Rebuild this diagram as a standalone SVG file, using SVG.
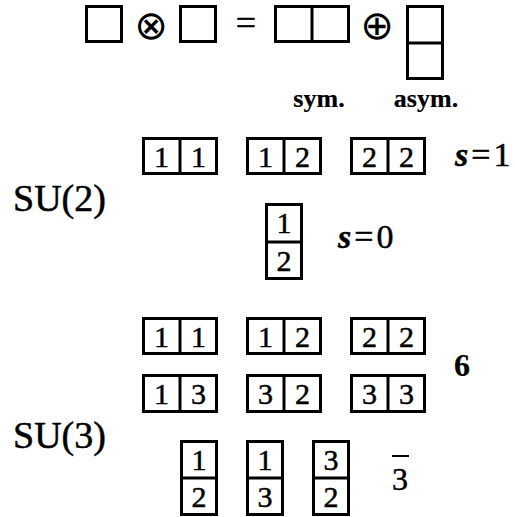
<svg xmlns="http://www.w3.org/2000/svg" width="515" height="517" viewBox="0 0 515 517">
<style>
.c{fill:#fff;stroke:#000;stroke-width:3}
.d{stroke:#000;stroke-width:3}
.t{fill:#000;stroke:#000;stroke-width:0.5}
.n{font-size:30px;text-anchor:middle}
.big{font-size:38px}
.b{font-weight:bold;stroke-width:0.2}
.sym{fill:#000;text-anchor:middle}
</style>
<rect width="515" height="517" fill="#fff"/>
<g font-family="Liberation Serif, Times New Roman, serif">
<g id="equation">
<rect class="c" x="86.5" y="6.5" width="35" height="35"/>
<text class="sym" x="151" y="39" font-size="40" font-family="DejaVu Sans, sans-serif">⊗</text>
<rect class="c" x="180.5" y="6.5" width="35" height="35"/>
<text class="t" x="246" y="35" font-size="36" text-anchor="middle" stroke-width="0">=</text>
<rect class="c" x="275.5" y="6.5" width="73" height="35"/>
<line class="d" x1="312" y1="6.5" x2="312" y2="41.5"/>
<text class="sym" x="377" y="39" font-size="40" font-family="DejaVu Sans, sans-serif">⊕</text>
<rect class="c" x="407.5" y="6.5" width="35" height="72"/>
<line class="d" x1="407.5" y1="43" x2="442.5" y2="43"/>
<text class="t b" x="319" y="107" font-size="26" text-anchor="middle">sym.</text>
<text class="t b" x="426" y="107" font-size="26" text-anchor="middle">asym.</text>
</g>
<g id="su2">
<text class="t big" x="13" y="211">SU(2)</text>
<g id="su2-11"><rect class="c" x="143.5" y="138.5" width="73" height="35"/><line class="d" x1="180" y1="138.5" x2="180" y2="173.5"/><text class="t n" x="161.5" y="167">1</text><text class="t n" x="198.5" y="167">1</text></g>
<g id="su2-12"><rect class="c" x="247.5" y="138.5" width="73" height="35"/><line class="d" x1="284" y1="138.5" x2="284" y2="173.5"/><text class="t n" x="265.5" y="167">1</text><text class="t n" x="302.5" y="167">2</text></g>
<g id="su2-22"><rect class="c" x="351.5" y="138.5" width="73" height="35"/><line class="d" x1="388" y1="138.5" x2="388" y2="173.5"/><text class="t n" x="369.5" y="167">2</text><text class="t n" x="406.5" y="167">2</text></g>
<text class="t" x="455" y="166" font-size="34"><tspan font-style="italic" font-weight="bold">s</tspan><tspan dx="3">=</tspan><tspan dx="3">1</tspan></text>
<g id="su2-v"><rect class="c" x="266.5" y="204.5" width="35" height="74"/><line class="d" x1="266.5" y1="242" x2="301.5" y2="242"/><text class="t n" x="284" y="233">1</text><text class="t n" x="284" y="271">2</text></g>
<text class="t" x="338" y="248" font-size="34"><tspan font-style="italic" font-weight="bold">s</tspan><tspan dx="3">=</tspan><tspan dx="3">0</tspan></text>
</g>
<g id="su3">
<text class="t big" x="13" y="448">SU(3)</text>
<g id="su3-11"><rect class="c" x="143.5" y="318.5" width="73" height="35"/><line class="d" x1="180" y1="318.5" x2="180" y2="353.5"/><text class="t n" x="161.5" y="347">1</text><text class="t n" x="198.5" y="347">1</text></g>
<g id="su3-12"><rect class="c" x="247.5" y="318.5" width="73" height="35"/><line class="d" x1="284" y1="318.5" x2="284" y2="353.5"/><text class="t n" x="265.5" y="347">1</text><text class="t n" x="302.5" y="347">2</text></g>
<g id="su3-22"><rect class="c" x="351.5" y="318.5" width="73" height="35"/><line class="d" x1="388" y1="318.5" x2="388" y2="353.5"/><text class="t n" x="369.5" y="347">2</text><text class="t n" x="406.5" y="347">2</text></g>
<g id="su3-13"><rect class="c" x="143.5" y="375.5" width="73" height="36"/><line class="d" x1="180" y1="375.5" x2="180" y2="411.5"/><text class="t n" x="161.5" y="404">1</text><text class="t n" x="198.5" y="404">3</text></g>
<g id="su3-32"><rect class="c" x="247.5" y="375.5" width="73" height="36"/><line class="d" x1="284" y1="375.5" x2="284" y2="411.5"/><text class="t n" x="265.5" y="404">3</text><text class="t n" x="302.5" y="404">2</text></g>
<g id="su3-33"><rect class="c" x="351.5" y="375.5" width="73" height="36"/><line class="d" x1="388" y1="375.5" x2="388" y2="411.5"/><text class="t n" x="369.5" y="404">3</text><text class="t n" x="406.5" y="404">3</text></g>
<text class="t b" x="462" y="376" font-size="32" text-anchor="middle">6</text>
<g id="su3-v12"><rect class="c" x="181.5" y="441.5" width="35" height="73"/><line class="d" x1="181.5" y1="478" x2="216.5" y2="478"/><text class="t n" x="199" y="470">1</text><text class="t n" x="199" y="507">2</text></g>
<g id="su3-v13"><rect class="c" x="247.5" y="441.5" width="35" height="73"/><line class="d" x1="247.5" y1="478" x2="282.5" y2="478"/><text class="t n" x="265" y="470">1</text><text class="t n" x="265" y="507">3</text></g>
<g id="su3-v32"><rect class="c" x="313.5" y="441.5" width="35" height="73"/><line class="d" x1="313.5" y1="478" x2="348.5" y2="478"/><text class="t n" x="331" y="470">3</text><text class="t n" x="331" y="507">2</text></g>
<text class="t" x="400" y="490" font-size="32" text-anchor="middle">3</text>
<line x1="392" y1="456" x2="409" y2="456" stroke="#000" stroke-width="2"/>
</g>
</g>
</svg>
